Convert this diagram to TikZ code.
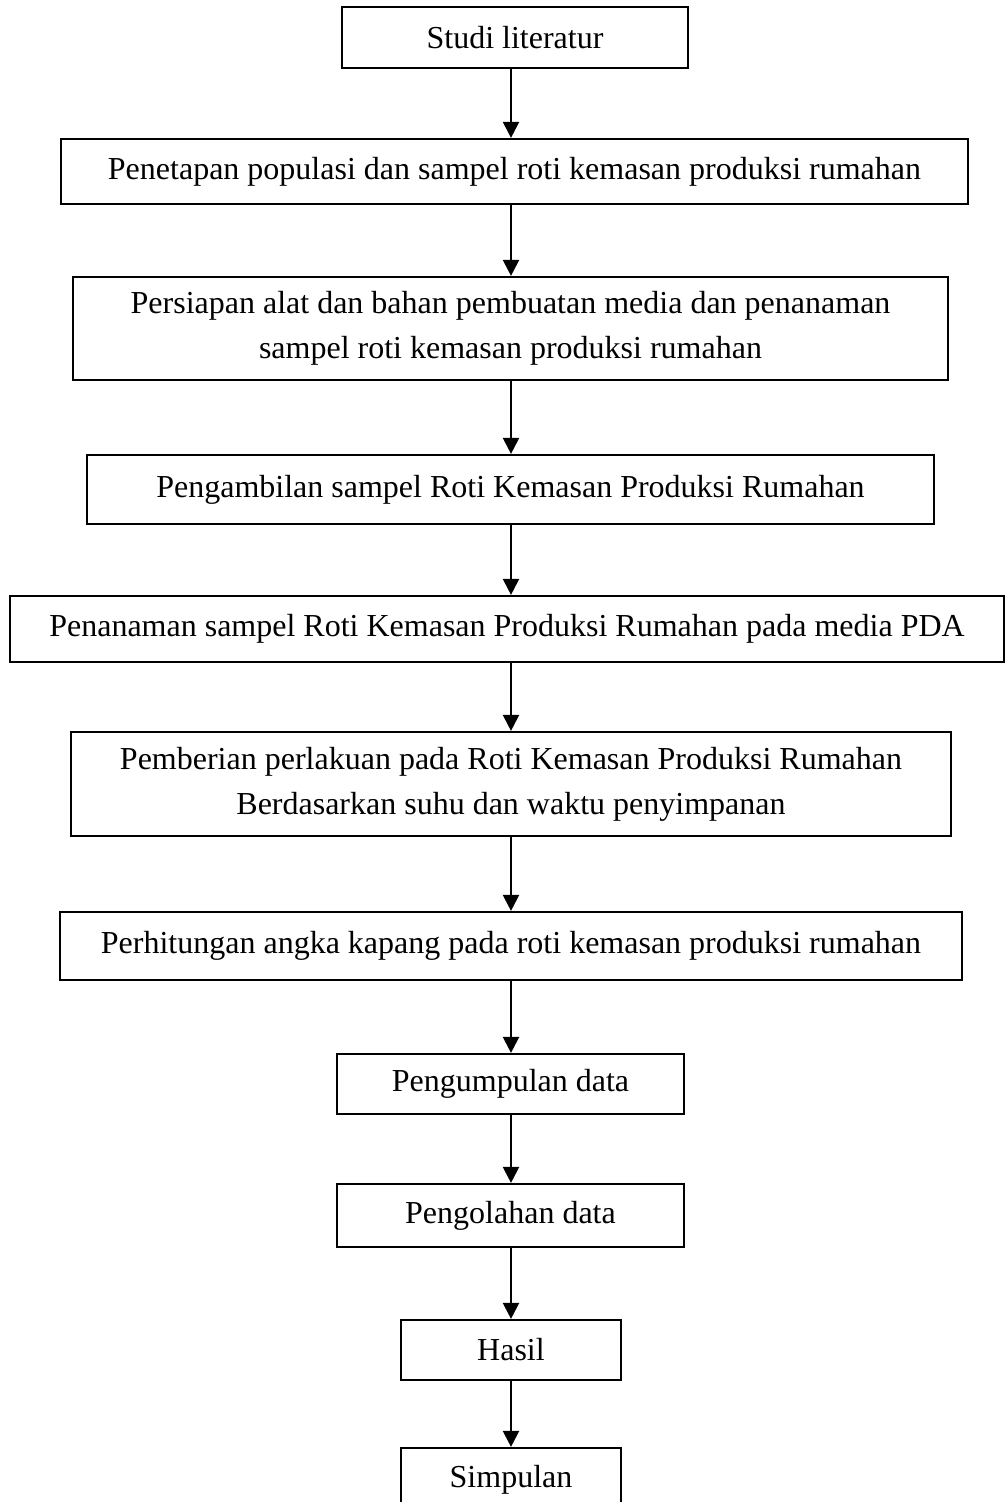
\documentclass[tikz,border=0pt]{standalone}
\usepackage{fontspec}
\setmainfont{Liberation Serif}
\usetikzlibrary{arrows.meta}
\begin{document}
\begin{tikzpicture}[x=1pt,y=-1pt,
  box/.style={draw=black,line width=2.2pt,inner sep=0pt,align=center,
    font=\fontsize{32}{45}\selectfont},
  arr/.style={line width=2.2pt,-{Triangle[length=16pt,width=16pt]}}]
\useasboundingbox (0,0) rectangle (1006,1502);
\coordinate (axis) at (511,0);
\newcommand{\mybox}[6]{%
  \node[box,minimum width={#3-#2},minimum height={#5-#4}] (#1) at ({(#2+#3)/2},{(#4+#5)/2}) {#6};}
\mybox{b1}{342}{688}{7}{68}{Studi literatur}
\mybox{b2}{61}{968}{139}{204}{Penetapan populasi dan sampel roti kemasan produksi rumahan}
\mybox{b3}{73}{948}{277}{380}{Persiapan alat dan bahan pembuatan media dan penanaman\\sampel roti kemasan produksi rumahan}
\mybox{b4}{87}{934}{455}{524}{Pengambilan sampel Roti Kemasan Produksi Rumahan}
\mybox{b5}{10}{1004}{596}{662}{Penanaman sampel Roti Kemasan Produksi Rumahan pada media PDA}
\mybox{b6}{71}{951}{732}{836}{Pemberian perlakuan pada Roti Kemasan Produksi Rumahan\\Berdasarkan suhu dan waktu penyimpanan}
\mybox{b7}{60}{962}{912}{980}{Perhitungan angka kapang pada roti kemasan produksi rumahan}
\mybox{b8}{337}{684}{1054}{1114}{Pengumpulan data}
\mybox{b9}{337}{684}{1184}{1247}{Pengolahan data}
\mybox{b10}{401}{621}{1320}{1380}{Hasil}
\mybox{b11}{401}{621}{1448}{1530}{\raisebox{25pt}{Simpulan}}
\foreach \a/\b in {b1/b2,b2/b3,b3/b4,b4/b5,b5/b6,b6/b7,b7/b8,b8/b9,b9/b10,b10/b11}
  \draw[arr] (\a.south -| axis) -- (\b.north -| axis);
\end{tikzpicture}
\end{document}
